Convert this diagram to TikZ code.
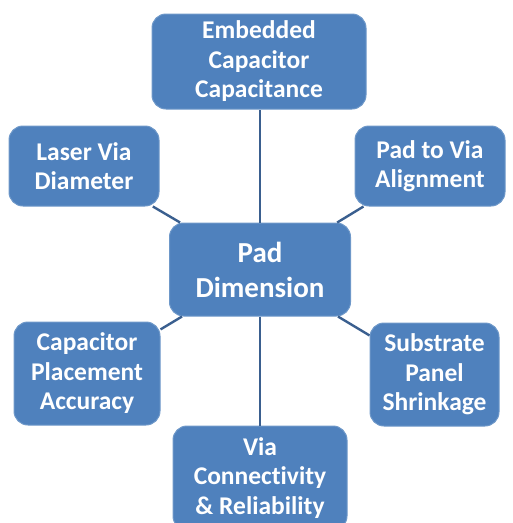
\documentclass[tikz,border=0pt]{standalone}
\usepackage{fontspec}
\setmainfont{Carlito}[Ligatures=CommonOff]
\definecolor{boxfill}{HTML}{4F81BD}
\definecolor{boxedge}{HTML}{6E98C9}
\definecolor{linkcol}{HTML}{3A5F8F}
\tikzset{
  topic/.style={rectangle, rounded corners=14pt, fill=boxfill, draw=boxedge,
    line width=1pt, text=white, align=center, inner sep=0pt,
    font=\fontsize{25.5}{29.5}\selectfont\bfseries},
  hub/.style={topic, font=\fontsize{29}{35}\selectfont\bfseries},
  link/.style={draw=linkcol, line width=2.4pt}
}
\begin{document}
\begin{tikzpicture}[x=1pt,y=-1pt]
\useasboundingbox (0,0) rectangle (513,523);
\begin{scope}
\clip (0,0) rectangle (513,523);
\node[hub, minimum width=181pt, minimum height=93pt] (pad) at (260,269.5) {Pad\\Dimension};
\node[topic, minimum width=214pt, minimum height=95pt] (emb) at (259,61.5) {Embedded\\Capacitor\\Capacitance};
\node[topic, minimum width=150pt, minimum height=80pt] (laser) at (84,166) {Laser Via\\Diameter};
\node[topic, minimum width=150pt, minimum height=80pt] (align) at (430,166) {Pad to Via\\Alignment};
\node[topic, minimum width=146pt, minimum height=103pt] (place) at (87,373.5) {Capacitor\\Placement\\Accuracy};
\node[topic, minimum width=129pt, minimum height=103pt] (shrink) at (434.5,374.5) {Substrate\\Panel\\Shrinkage};
\node[topic, minimum width=174pt, minimum height=104pt] (via) at (260,478) {Via\\Connectivity\\\& Reliability};
\draw[link] (pad.north) -- (pad.north |- emb.south);
\draw[link] (pad.south) -- (pad.south |- via.north);
\draw[link] (pad) -- (laser);
\draw[link] (pad) -- (align);
\draw[link] (pad) -- (place);
\draw[link] (pad) -- (shrink);
\end{scope}
\end{tikzpicture}
\end{document}
